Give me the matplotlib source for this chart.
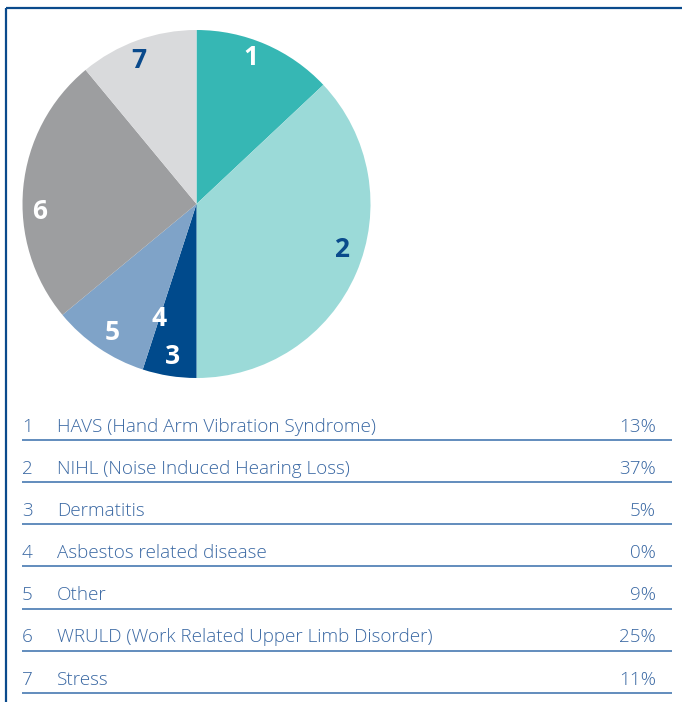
import matplotlib
matplotlib.use("Agg")
import matplotlib.pyplot as plt
import numpy as np

# data
numbers = ["1", "2", "3", "4", "5", "6", "7"]
names = ["HAVS (Hand Arm Vibration Syndrome)",
         "NIHL (Noise Induced Hearing Loss)",
         "Dermatitis",
         "Asbestos related disease",
         "Other",
         "WRULD (Work Related Upper Limb Disorder)",
         "Stress"]
shares = [13, 37, 5, 0, 9, 25, 11]

colors = ["#36b7b4", "#9bdad8", "#004a8c", "#004a8c", "#7fa3c8", "#9d9ea0", "#d9dadc"]
label_colors = ["white", "#0a4a8c", "white", "white", "white", "white", "#0a4a8c"]
# label placement: radius fraction and angular nudge (degrees) from slice middle
label_r = [0.90, 0.875, 0.885, 0.69, 0.88, 0.90, 0.89]
label_shift = [-3, -6, 0, 0, -1, -8, -2]

W, H = 682, 702
frame_blue = "#0a4a8c"
text_blue = "#3a68a3"
rule_blue = "#5583b8"

fig = plt.figure(figsize=(W / 100, H / 100), dpi=100)

# pie: center (196.5, 204) from top, radius 174 px
cx, cy, r = 196.5, 204, 174
ax = fig.add_axes([(cx - r) / W, (H - cy - r) / H, 2 * r / W, 2 * r / H])
wedges, _ = ax.pie(shares, colors=colors, startangle=90, counterclock=False,
                   radius=1, wedgeprops=dict(linewidth=0))
ax.set_xlim(-1, 1)
ax.set_ylim(-1, 1)
ax.set_aspect("equal")
ax.axis("off")

total = sum(shares)
start = 0.0
for i, s in enumerate(shares):
    mid = np.radians((start + s / 2) / total * 360 + label_shift[i])
    start += s
    x = label_r[i] * np.sin(mid)
    y = label_r[i] * np.cos(mid)
    ax.text(x, y, numbers[i], ha="center", va="center", fontsize=19,
            fontweight="bold", color=label_colors[i], family="Open Sans")

# overlay axes in pixel coordinates for frame and table
ov = fig.add_axes([0, 0, 1, 1])
ov.set_xlim(0, W)
ov.set_ylim(H, 0)
ov.axis("off")

ov.plot([5.5, W], [8.3, 8.3], color=frame_blue, lw=1.6, solid_capstyle="butt")
ov.plot([5.5, 5.5], [8.3, H], color=frame_blue, lw=1.6, solid_capstyle="butt")

row0, step = 431.5, 42.2
fs = 13.6
for i in range(len(names)):
    ty = row0 + i * step
    ov.text(22, ty, numbers[i], ha="left", va="baseline", fontsize=fs,
            color=text_blue, family="Open Sans", fontweight="light")
    ov.text(57, ty, names[i], ha="left", va="baseline", fontsize=fs,
            color=text_blue, family="Open Sans", fontweight="light")
    ov.text(656, ty, f"{shares[i]}%", ha="right", va="baseline", fontsize=fs,
            color=text_blue, family="Open Sans", fontweight="light")
    ly = ty + 8.2
    ov.plot([22, 672], [ly, ly], color=rule_blue, lw=1.3, solid_capstyle="butt")

fig.savefig("out.png", dpi=100)
